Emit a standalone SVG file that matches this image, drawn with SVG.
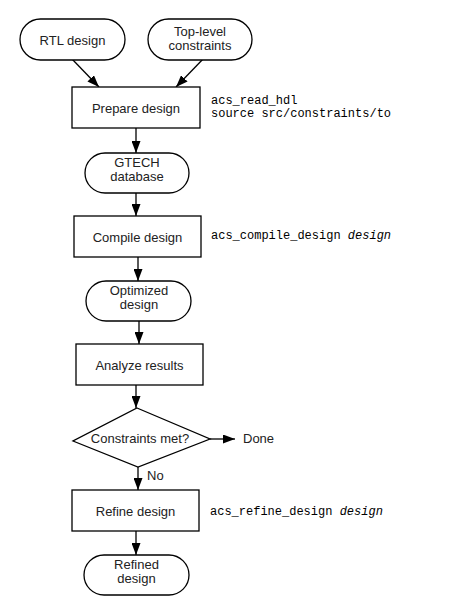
<svg xmlns="http://www.w3.org/2000/svg" width="457" height="607" viewBox="0 0 457 607">
<defs>
<marker id="ah" viewBox="0 0 12 9" refX="12" refY="4.5" markerWidth="12" markerHeight="9" markerUnits="userSpaceOnUse" orient="auto">
<path d="M0,0 L12,4.5 L0,9 Z" fill="#000"/>
</marker>
</defs>
<style>
.shape{fill:#fff;stroke:#000;stroke-width:1.3}
.lbl{font-family:"Liberation Sans",Arial,sans-serif;font-size:13px;fill:#222;text-anchor:middle}
.cmd{font-family:"Liberation Mono","Courier New",monospace;font-size:12px;fill:#000}
.it{font-style:italic}
.conn{stroke:#000;stroke-width:1.3;fill:none;marker-end:url(#ah)}
</style>
<rect width="457" height="607" fill="#fff"/>
<g id="connectors">
<line class="conn" x1="72" y1="59" x2="99" y2="87"/>
<line class="conn" x1="205" y1="57" x2="176" y2="87"/>
<line class="conn" x1="136" y1="128" x2="136" y2="153"/>
<line class="conn" x1="136" y1="193" x2="136" y2="216"/>
<line class="conn" x1="138" y1="257" x2="138" y2="281"/>
<line class="conn" x1="139" y1="321" x2="139" y2="344"/>
<line class="conn" x1="136" y1="385" x2="136" y2="408"/>
<line class="conn" x1="210" y1="439" x2="235" y2="439"/>
<line class="conn" x1="138" y1="467" x2="138" y2="490"/>
<line class="conn" x1="136" y1="531" x2="136" y2="555"/>
</g>
<g id="rtl">
<rect class="shape" x="20" y="19" width="105" height="41" rx="20.5"/>
<text class="lbl" x="72.5" y="45">RTL design</text>
</g>
<g id="toplevel">
<rect class="shape" x="148" y="19" width="104" height="41" rx="20.5"/>
<text class="lbl" x="200" y="36">Top-level</text>
<text class="lbl" x="200" y="50">constraints</text>
</g>
<g id="prepare">
<rect class="shape" x="72" y="87" width="128" height="41"/>
<text class="lbl" x="136" y="113">Prepare design</text>
<text class="cmd" x="211" y="104">acs_read_hdl</text>
<text class="cmd" x="211" y="117">source src/constraints/to</text>
</g>
<g id="gtech">
<rect class="shape" x="85" y="153" width="104" height="40" rx="20"/>
<text class="lbl" x="137" y="167">GTECH</text>
<text class="lbl" x="137" y="181">database</text>
</g>
<g id="compile">
<rect class="shape" x="74" y="216" width="127" height="41"/>
<text class="lbl" x="137.5" y="242">Compile design</text>
<text class="cmd" x="211" y="239">acs_compile_design <tspan class="it">design</tspan></text>
</g>
<g id="optimized">
<rect class="shape" x="86" y="281" width="105" height="40" rx="20"/>
<text class="lbl" x="139" y="295">Optimized</text>
<text class="lbl" x="139" y="309">design</text>
</g>
<g id="analyze">
<rect class="shape" x="76" y="344" width="127" height="41"/>
<text class="lbl" x="139.5" y="370">Analyze results</text>
</g>
<g id="decision">
<polygon class="shape" points="137,408 210,439 138,467 73,441"/>
<text class="lbl" x="140" y="443">Constraints met?</text>
</g>
<g id="done">
<text class="lbl" x="243" y="443" style="text-anchor:start">Done</text>
</g>
<g id="no-label">
<text class="lbl" x="147" y="480" style="text-anchor:start">No</text>
</g>
<g id="refine">
<rect class="shape" x="72" y="490" width="127" height="41"/>
<text class="lbl" x="135.5" y="516">Refine design</text>
<text class="cmd" x="210" y="515">acs_refine_design <tspan class="it">design</tspan></text>
</g>
<g id="refined">
<rect class="shape" x="84" y="555" width="105" height="40" rx="20"/>
<text class="lbl" x="136.5" y="569">Refined</text>
<text class="lbl" x="136.5" y="583">design</text>
</g>
</svg>
